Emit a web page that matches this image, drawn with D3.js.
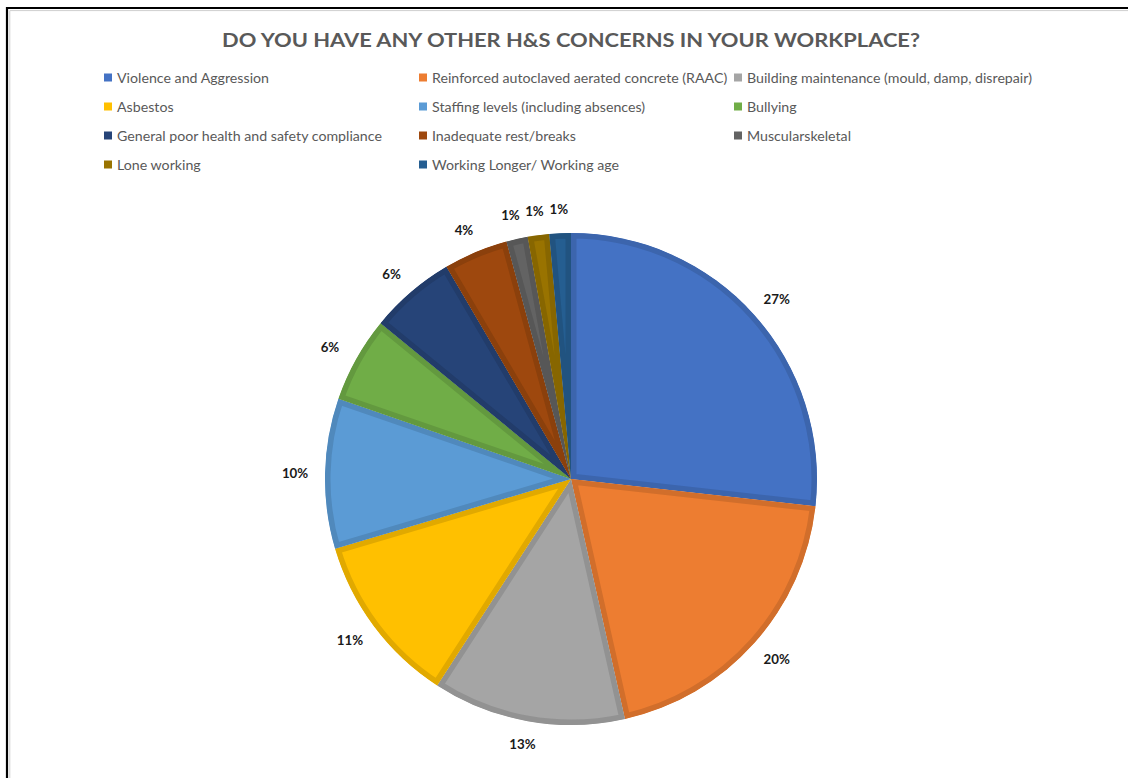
<!DOCTYPE html>
<html>
<head>
<meta charset="utf-8">
<script src="https://cdn.jsdelivr.net/npm/d3@7"></script>
<style>
  html, body { margin: 0; padding: 0; background: #fff; }
  svg { display: block; }
</style>
</head>
<body>
<svg id="chart" width="1128" height="778"></svg>
<script>
// Survey responses: number of members naming each concern
const categories = [
  "Violence and Aggression",
  "Reinforced autoclaved aerated concrete (RAAC)",
  "Building maintenance (mould, damp, disrepair)",
  "Asbestos",
  "Staffing levels (including absences)",
  "Bullying",
  "General poor health and safety compliance",
  "Inadequate rest/breaks",
  "Muscularskeletal",
  "Lone working",
  "Working Longer/ Working age"
];
const responses = [19, 14, 9, 8, 7, 4, 4, 3, 1, 1, 1];
const colors = [
  "#4472C4", "#ED7D31", "#A5A5A5", "#FFC000", "#5B9BD5", "#70AD47",
  "#264478", "#9E480E", "#636363", "#997300", "#255E91"
];
const title = "DO YOU HAVE ANY OTHER H&S CONCERNS IN YOUR WORKPLACE?";

const W = 1128, H = 778;
const svg = d3.select("#chart");
const font = "Lato, 'Open Sans', sans-serif";

// Outer frame
svg.append("path")
  .attr("d", `M7,${H + 10} V8 H${W + 10}`)
  .attr("fill", "none").attr("stroke", "#000").attr("stroke-width", 2.2);
svg.append("path")
  .attr("d", `M9.8,${H + 10} V10.6 H${W + 10}`)
  .attr("fill", "none").attr("stroke", "#cfcfcf").attr("stroke-width", 1);

// Title
svg.append("text")
  .attr("x", 571).attr("y", 47)
  .attr("text-anchor", "middle")
  .attr("font-family", font).attr("font-weight", 700)
  .attr("font-size", 19.5).attr("fill", "#595959")
  .attr("textLength", 698).attr("lengthAdjust", "spacingAndGlyphs")
  .text(title);

// Legend: three columns, filled row by row
const legendCols = [104, 419, 734];
const legendTop = 78, legendStep = 29;
const legend = svg.append("g");
categories.forEach((name, i) => {
  const col = i % 3, row = Math.floor(i / 3);
  const g = legend.append("g")
    .attr("transform", `translate(${legendCols[col]},${legendTop + row * legendStep})`);
  g.append("rect").attr("x", 0).attr("y", -4.5).attr("width", 8).attr("height", 8)
    .attr("fill", colors[i]);
  g.append("text").attr("x", 13).attr("y", 0).attr("dy", "0.35em")
    .attr("font-family", font).attr("font-size", 14.2).attr("fill", "#595959")
    .text(name);
});

// Pie
const cx = 571, cy = 479, radius = 246;
const total = d3.sum(responses);
const pie = d3.pie().sort(null).value(d => d)(responses);
const arc = d3.arc().innerRadius(0).outerRadius(radius);
const pct = d3.format(".0%");

const defs = svg.append("defs");
const pieG = svg.append("g").attr("transform", `translate(${cx},${cy})`);

pie.forEach((s, i) => {
  const d = arc(s);
  defs.append("clipPath").attr("id", "slice-clip-" + i)
    .append("path").attr("d", d);
  pieG.append("path")
    .attr("d", d)
    .attr("fill", colors[i])
    .attr("stroke", d3.color(colors[i]).darker(0.35))
    .attr("stroke-width", 11)
    .attr("stroke-linejoin", "round")
    .attr("clip-path", `url(#slice-clip-${i})`);
});

// Outside-end percentage labels
const labelR = radius + 16;
pie.forEach((s, i) => {
  const a = (s.startAngle + s.endAngle) / 2;
  const sx = Math.sin(a), sy = -Math.cos(a);
  const bw = 28, bh = 16;
  const x = cx + labelR * sx + sx * bw / 2;
  const y = cy + labelR * sy + sy * bh / 2;
  svg.append("text")
    .attr("x", x).attr("y", y).attr("dy", "0.35em")
    .attr("text-anchor", "middle")
    .attr("font-family", font).attr("font-weight", 700)
    .attr("font-size", 13.3).attr("fill", "#1a1a1a")
    .text(pct(s.data / total));
});
</script>
</body>
</html>
